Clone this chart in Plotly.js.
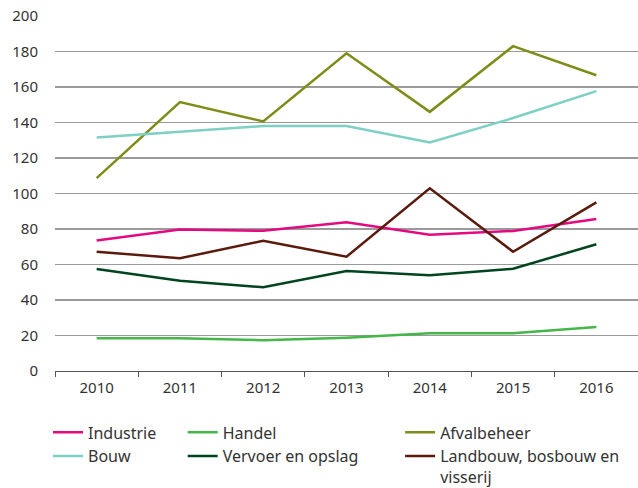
<!DOCTYPE html>
<html>
<head>
<meta charset="utf-8">
<script src="https://cdn.plot.ly/plotly-3.0.1.min.js"></script>
<style>html,body{margin:0;padding:0;background:#fff;}#chart{width:638px;height:488px;}</style>
</head>
<body>
<div id="chart"></div>
<script>
const years = ["2010","2011","2012","2013","2014","2015","2016"];
const industrie = [73.5, 79.7, 79.0, 83.8, 76.8, 78.9, 85.6];
const handel = [18.4, 18.4, 17.3, 18.8, 21.2, 21.2, 24.8];
const afvalbeheer = [108.7, 151.5, 140.6, 179.0, 146.0, 183.0, 166.6];
const bouw = [131.6, 135.0, 138.0, 138.0, 128.8, 142.5, 157.7];
const vervoer = [57.5, 50.9, 47.2, 56.3, 53.9, 57.6, 71.4];
const landbouw = [67.2, 63.5, 73.4, 64.4, 102.9, 67.2, 95.0];

const names = ["Industrie", "Handel", "Afvalbeheer", "Bouw", "Vervoer en opslag", "Landbouw, bosbouw en<br>visserij"];
const series = [industrie, handel, afvalbeheer, bouw, vervoer, landbouw];
const colors = ["#e5097f", "#45b649", "#7f8c17", "#7dd0c3", "#00451f", "#5a1a0c"];
const legendIds = ["legend", "legend2", "legend3", "legend", "legend2", "legend3"];

const traces = series.map((s, i) => ({
  type: "scatter",
  mode: "lines",
  x: years,
  y: s,
  name: names[i],
  line: {color: colors[i], width: 2.5},
  legend: legendIds[i],
  hoverinfo: "skip"
}));

const legendBase = {
  orientation: "v",
  yanchor: "top",
  y: -0.125,
  xanchor: "left",
  valign: "top",
  font: {family: "Noto Sans, Open Sans, sans-serif", size: 16, color: "#333"},
  bgcolor: "rgba(0,0,0,0)",
  tracegroupgap: 0,
  itemwidth: 30,
  traceorder: "normal"
};

const layout = {
  width: 638,
  height: 488,
  margin: {l: 55, r: 0, t: 16, b: 117, autoexpand: false},
  paper_bgcolor: "#fff",
  plot_bgcolor: "#fff",
  font: {family: "Noto Sans, Open Sans, sans-serif", size: 15, color: "#333"},
  showlegend: true,
  xaxis: {
    type: "category",
    range: [-0.5, 6.5],
    showgrid: false,
    zeroline: false,
    showline: true,
    linecolor: "#555",
    linewidth: 1,
    ticks: "outside",
    tickson: "boundaries",
    ticklen: 5,
    tickcolor: "#555",
    ticklabelstandoff: 3,
    tickfont: {size: 15, color: "#333"},
    fixedrange: true
  },
  yaxis: {
    range: [0, 200],
    dtick: 20,
    showgrid: true,
    gridcolor: "#9a9a9a",
    gridwidth: 1.5,
    zeroline: false,
    showline: false,
    ticks: "",
    ticklabelstandoff: 16,
    tickfont: {size: 15, color: "#333"},
    fixedrange: true
  },
  legend: Object.assign({}, legendBase, {x: -0.012}),
  legend2: Object.assign({}, legendBase, {x: 0.219}),
  legend3: Object.assign({}, legendBase, {x: 0.592})
};

Plotly.newPlot("chart", traces, layout, {displayModeBar: false, staticPlot: true});
</script>
</body>
</html>
